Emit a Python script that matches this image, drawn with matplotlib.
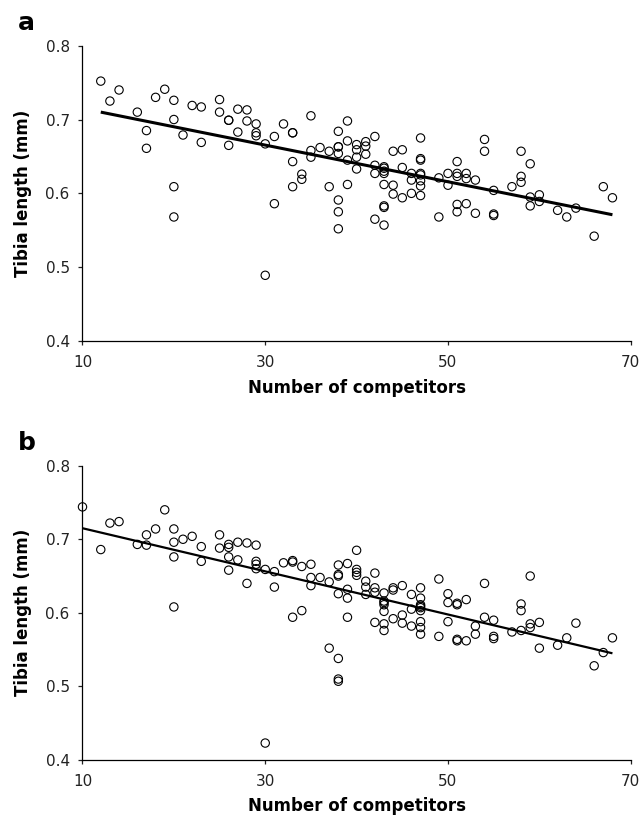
import numpy as np
import matplotlib
matplotlib.use("Agg")
import matplotlib.pyplot as plt

# panel a: tibia length vs number of competitors
a_x = [12, 13, 14, 16, 17, 17, 18, 19, 20, 20, 20, 20, 21, 22, 23, 23, 25, 25,
       26, 26, 26, 27, 27, 28, 28, 29, 29, 29, 30, 30, 31, 31, 32, 33, 33, 33, 33,
       34, 34, 35, 35, 35, 36, 37, 37, 38, 38, 38, 38, 38, 38, 38,
       39, 39, 39, 39, 40, 40, 40, 40, 41, 41, 41, 42, 42, 42, 42,
       43, 43, 43, 43, 43, 43, 43, 43, 44, 44, 44, 45, 45, 45, 46, 46, 46,
       47, 47, 47, 47, 47, 47, 47, 47, 49, 49, 50, 50, 51, 51, 51, 51, 51,
       52, 52, 52, 53, 53, 54, 54, 55, 55, 55, 57, 58, 58, 58, 59, 59, 59,
       60, 60, 62, 63, 64, 66, 67, 68]
a_y = [0.752, 0.725, 0.740, 0.710, 0.685, 0.661, 0.730, 0.741, 0.726, 0.700, 0.609, 0.568,
       0.679, 0.719, 0.717, 0.669, 0.727, 0.710, 0.699, 0.699, 0.665, 0.714, 0.683,
       0.713, 0.698, 0.694, 0.682, 0.678, 0.667, 0.489, 0.677, 0.586, 0.694,
       0.682, 0.682, 0.643, 0.609, 0.626, 0.619, 0.705, 0.658, 0.649, 0.662, 0.657, 0.609,
       0.684, 0.663, 0.663, 0.654, 0.591, 0.575, 0.552,
       0.698, 0.671, 0.645, 0.612, 0.666, 0.659, 0.649, 0.633, 0.670, 0.664, 0.653,
       0.677, 0.638, 0.627, 0.565,
       0.636, 0.634, 0.630, 0.627, 0.612, 0.583, 0.581, 0.557, 0.657, 0.611, 0.599,
       0.659, 0.635, 0.594, 0.627, 0.618, 0.600,
       0.675, 0.647, 0.645, 0.627, 0.625, 0.617, 0.610, 0.597, 0.621, 0.568, 0.627, 0.611,
       0.643, 0.627, 0.623, 0.585, 0.575, 0.627, 0.620, 0.586, 0.618, 0.573, 0.673, 0.657,
       0.604, 0.572, 0.570, 0.609, 0.657, 0.623, 0.615, 0.640, 0.595, 0.583,
       0.598, 0.589, 0.577, 0.568, 0.580, 0.542, 0.609, 0.594]

# panel b
b_x = [10, 12, 13, 14, 16, 17, 17, 18, 19, 20, 20, 20, 20, 21, 22, 23, 23, 25, 25,
       26, 26, 26, 26, 27, 27, 28, 28, 29, 29, 29, 29, 30, 30, 31, 31, 32, 33, 33, 33,
       34, 34, 35, 35, 35, 36, 37, 37, 38, 38, 38, 38, 38, 38, 38,
       39, 39, 39, 39, 40, 40, 40, 40, 41, 41, 41, 42, 42, 42, 42,
       43, 43, 43, 43, 43, 43, 43, 44, 44, 44, 45, 45, 45, 46, 46, 46,
       47, 47, 47, 47, 47, 47, 47, 47, 47, 49, 49, 50, 50, 50, 51, 51, 51, 51,
       52, 52, 53, 53, 54, 54, 55, 55, 55, 57, 58, 58, 58, 59, 59, 59,
       60, 60, 62, 63, 64, 66, 67, 68]
b_y = [0.744, 0.686, 0.722, 0.724, 0.693, 0.706, 0.692, 0.714, 0.740, 0.714, 0.696, 0.676, 0.608,
       0.700, 0.704, 0.690, 0.670, 0.706, 0.688, 0.693, 0.689, 0.676, 0.658, 0.696, 0.672,
       0.695, 0.640, 0.692, 0.670, 0.666, 0.660, 0.659, 0.423, 0.656, 0.635, 0.668,
       0.671, 0.669, 0.594, 0.663, 0.603, 0.666, 0.648, 0.637, 0.648, 0.642, 0.552,
       0.665, 0.652, 0.650, 0.626, 0.538, 0.510, 0.507,
       0.667, 0.632, 0.620, 0.594, 0.685, 0.659, 0.655, 0.651, 0.643, 0.635, 0.625,
       0.654, 0.634, 0.628, 0.587,
       0.627, 0.616, 0.614, 0.611, 0.602, 0.585, 0.576, 0.634, 0.631, 0.592,
       0.637, 0.597, 0.586, 0.625, 0.605, 0.582,
       0.634, 0.620, 0.611, 0.609, 0.607, 0.603, 0.588, 0.580, 0.571, 0.646, 0.568,
       0.626, 0.614, 0.588, 0.613, 0.611, 0.564, 0.562, 0.618, 0.562, 0.582, 0.571,
       0.640, 0.594, 0.590, 0.568, 0.565, 0.574, 0.612, 0.603, 0.576, 0.650, 0.585, 0.580,
       0.587, 0.552, 0.556, 0.566, 0.586, 0.528, 0.546, 0.566]

# regression lines (intercept, slope, x range)
fit_a = (0.7398, -0.002482, 12, 68)
fit_b = (0.7443, -0.002931, 10, 68)

plt.rcParams['font.family'] = ['DejaVu Sans']

fig = plt.figure(figsize=(6.43, 8.17), dpi=100)
ax_a = fig.add_axes([0.1283, 0.5826, 0.8526, 0.3615])
ax_b = fig.add_axes([0.1283, 0.0698, 0.8526, 0.3602])

panels = [(ax_a, a_x, a_y, fit_a, 2.2, "a"), (ax_b, b_x, b_y, fit_b, 1.6, "b")]
for ax, xs, ys, fit, lw, letter in panels:
    ax.scatter(xs, ys, s=36, facecolors="none", edgecolors="black",
               linewidths=0.8, clip_on=False, zorder=3)
    b0, b1, x0, x1 = fit
    xx = np.array([x0, x1])
    ax.plot(xx, b0 + b1 * xx, color="black", linewidth=lw, solid_capstyle="butt", zorder=2)

    ax.set_xlim(10, 70)
    ax.set_ylim(0.4, 0.8)
    ax.set_xticks([10, 30, 50, 70])
    ax.set_yticks([0.4, 0.5, 0.6, 0.7, 0.8])
    ax.set_yticklabels(["0.4", "0.5", "0.6", "0.7", "0.8"])
    ax.spines["top"].set_visible(False)
    ax.spines["right"].set_visible(False)
    ax.spines["left"].set_linewidth(0.9)
    ax.spines["bottom"].set_linewidth(0.9)
    ax.tick_params(direction="out", length=3.2, width=0.9, labelsize=11,
                   colors="#222222")
    ax.tick_params(axis="x", pad=7)
    ax.tick_params(axis="y", pad=6)
    ax.set_xlabel("Number of competitors", fontsize=12, fontweight="bold", labelpad=6)
    ax.set_ylabel("Tibia length (mm)", fontsize=12, fontweight="bold", labelpad=10)
    ax.text(-0.118, 1.035, letter, transform=ax.transAxes, fontsize=18,
            fontweight="bold", va="bottom", ha="left")

fig.savefig("out.png", dpi=100)
